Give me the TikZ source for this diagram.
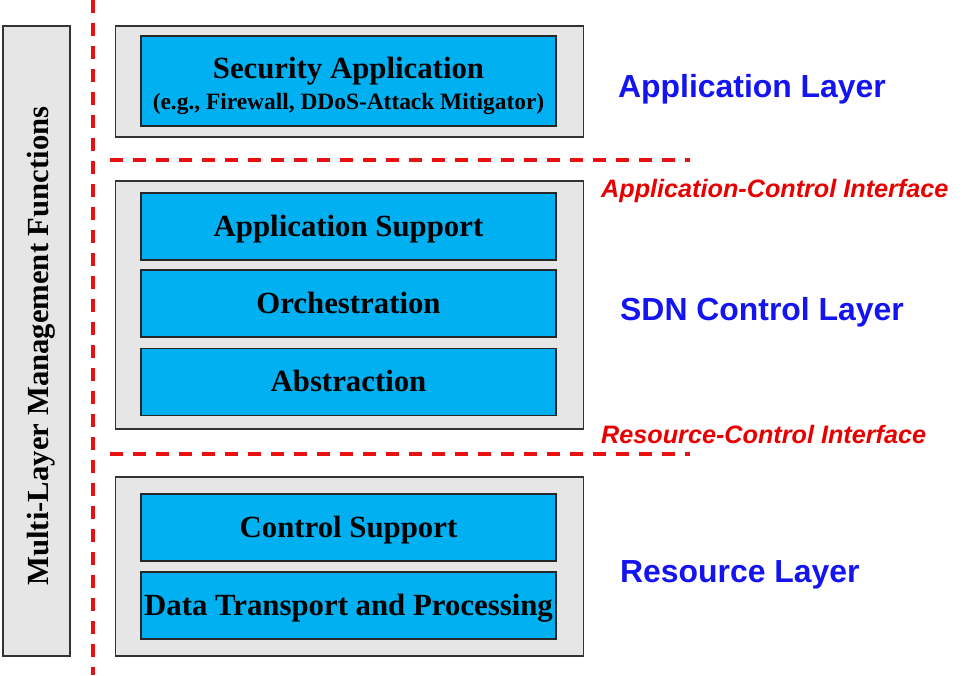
\documentclass[tikz,border=0pt]{standalone}
\usepackage{fontspec}
\setmainfont{Liberation Serif}
\newfontfamily\arialf{Liberation Sans}
\definecolor{boxblue}{HTML}{00B0F0}
\definecolor{boxgray}{HTML}{E6E6E6}
\definecolor{dashred}{HTML}{E81010}
\definecolor{layerblue}{HTML}{1414F0}
\definecolor{ifred}{HTML}{E80000}
\begin{document}
\begin{tikzpicture}[x=1pt,y=-1pt,
  graybox/.style={draw=black!80,line width=1.3pt,fill=boxgray,inner sep=0pt},
  bluebox/.style={draw=black!85,line width=1.3pt,fill=boxblue,inner sep=0pt,minimum width=415pt,
     font=\fontsize{30.8}{33}\selectfont\bfseries,text height=24.5pt,text depth=5.5pt},
  reddash/.style={draw=dashred,line width=3.8pt,dash pattern=on 13pt off 10pt},
  layerlbl/.style={anchor=west,inner sep=0pt,text=layerblue,font=\arialf\bfseries\fontsize{31.9}{35}\selectfont},
  iflbl/.style={anchor=west,inner sep=0pt,text=ifred,font=\arialf\bfseries\itshape\fontsize{25.2}{28}\selectfont}]
\useasboundingbox (0,0) rectangle (979,675);
% left management bar
\node[graybox,minimum width=67pt,minimum height=630pt] (mgmt) at (36.5,341) {};
\node[rotate=90,font=\fontsize{30.7}{34}\selectfont\bfseries] (mgmtlbl) at (41,346) {Multi-Layer Management Functions};
% dashed lines
\coordinate (vtop) at (93,0);
\coordinate (vbot) at (93,675);
\draw[reddash] (vtop) -- (vbot);
\coordinate (h1a) at (110,160);
\coordinate (h1b) at (690,160);
\draw[reddash] (h1a) -- (h1b);
\coordinate (h2a) at (110,454);
\coordinate (h2b) at (690,454);
\draw[reddash] (h2a) -- (h2b);
% application layer
\node[graybox,minimum width=468pt,minimum height=111pt] (appgray) at (349.5,81.5) {};
\node[bluebox,minimum height=90pt,text height=,text depth=] (secapp) at (348.5,81) {};
\node[align=center,inner sep=0pt,font=\fontsize{30.8}{33}\selectfont\bfseries] (seclbl) at (348.5,85.5)
  {Security Application\\[-2pt]{\fontsize{23.4}{26}\selectfont (e.g., Firewall, DDoS-Attack Mitigator)}};
% control layer
\node[graybox,minimum width=468pt,minimum height=248pt] (ctlgray) at (349.5,305) {};
\node[bluebox,minimum height=67pt] (appsup) at (348.5,226.5) {Application Support};
\node[bluebox,minimum height=67pt] (orch) at (348.5,303.5) {Orchestration};
\node[bluebox,minimum height=67pt] (abstr) at (348.5,382) {Abstraction};
% resource layer
\node[graybox,minimum width=468pt,minimum height=179pt] (resgray) at (349.5,566.5) {};
\node[bluebox,minimum height=67pt] (ctlsup) at (348.5,527.5) {Control Support};
\node[bluebox,minimum height=67pt] (datatp) at (348.5,605.5) {Data Transport and Processing};
% labels
\node[layerlbl] (lapp) at (618,89) {Application Layer};
\node[iflbl] (lacif) at (601,191) {Application-Control Interface};
\node[layerlbl] (lsdn) at (620,312) {SDN Control Layer};
\node[iflbl] (lrcif) at (601,434) {Resource-Control Interface};
\node[layerlbl] (lres) at (620,575) {Resource Layer};
\end{tikzpicture}
\end{document}
